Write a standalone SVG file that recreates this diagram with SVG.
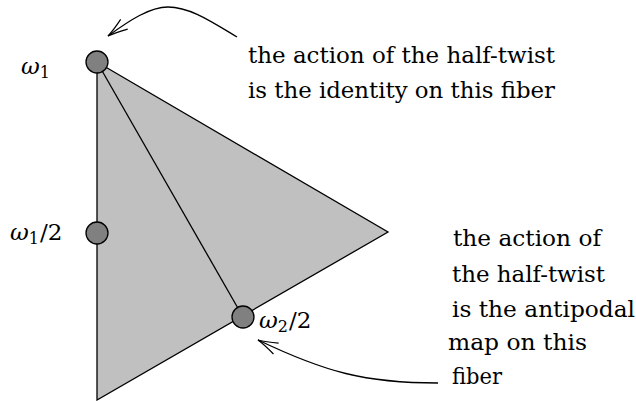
<svg xmlns="http://www.w3.org/2000/svg" width="636" height="401" viewBox="0 0 636 401">
<style>
text{font-family:'DejaVu Serif','Liberation Serif',serif;fill:#000}
.t{font-size:22px}
.m{font-size:23px;font-style:italic}
.n{font-style:normal}
.s{font-size:16px;font-style:normal}
.pt{fill:#808080;stroke:#000;stroke-width:1.3}
.ln{fill:none;stroke:#000;stroke-width:1.3}
</style>
<defs>
<marker id="ah" markerUnits="userSpaceOnUse" viewBox="-22 -7 24 14" refX="0" refY="0" markerWidth="24" markerHeight="14" orient="auto" overflow="visible">
<path d="M-20,-6 Q-8,-1.5 0,0 Q-8,1.5 -20,6" fill="none" stroke="#000" stroke-width="1.2"/>
</marker>
</defs>
<g id="triangle">
<polygon points="97,62 388,232 97,400" fill="#c0c0c0" stroke="#000" stroke-width="1.3"/>
<line class="ln" x1="97" y1="62" x2="243" y2="317"/>
</g>
<g id="connectors">
<path class="ln" d="M237,37 C212,22 190,7 168,7 C150,7 130,20 108,36" marker-end="url(#ah)"/>
<path class="ln" d="M438,383 C365,383 325,372 258,340" marker-end="url(#ah)"/>
</g>
<g id="w1">
<circle class="pt" cx="97" cy="62" r="11"/>
<text class="m" x="21" y="74">ω<tspan class="s" dy="4">1</tspan></text>
</g>
<g id="w1half">
<circle class="pt" cx="97" cy="233" r="11"/>
<text class="m" x="10" y="240">ω<tspan class="s" dy="4">1</tspan><tspan class="n" dy="-4" dx="1">/2</tspan></text>
</g>
<g id="w2half">
<circle class="pt" cx="243" cy="317" r="11"/>
<text class="m" x="259" y="328">ω<tspan class="s" dy="4">2</tspan><tspan class="n" dy="-4" dx="1">/2</tspan></text>
</g>
<g id="label-top">
<text class="t" x="248" y="63" textLength="307" lengthAdjust="spacingAndGlyphs">the action of the half-twist</text>
<text class="t" x="248" y="98" textLength="307" lengthAdjust="spacingAndGlyphs">is the identity on this fiber</text>
</g>
<g id="label-bottom">
<text class="t" x="453" y="246" textLength="148" lengthAdjust="spacingAndGlyphs">the action of</text>
<text class="t" x="452" y="282" textLength="153" lengthAdjust="spacingAndGlyphs">the half-twist</text>
<text class="t" x="452" y="317" textLength="183" lengthAdjust="spacingAndGlyphs">is the antipodal</text>
<text class="t" x="448" y="350" textLength="139" lengthAdjust="spacingAndGlyphs">map on this</text>
<text class="t" x="452" y="384" textLength="50" lengthAdjust="spacingAndGlyphs">fiber</text>
</g>
</svg>
